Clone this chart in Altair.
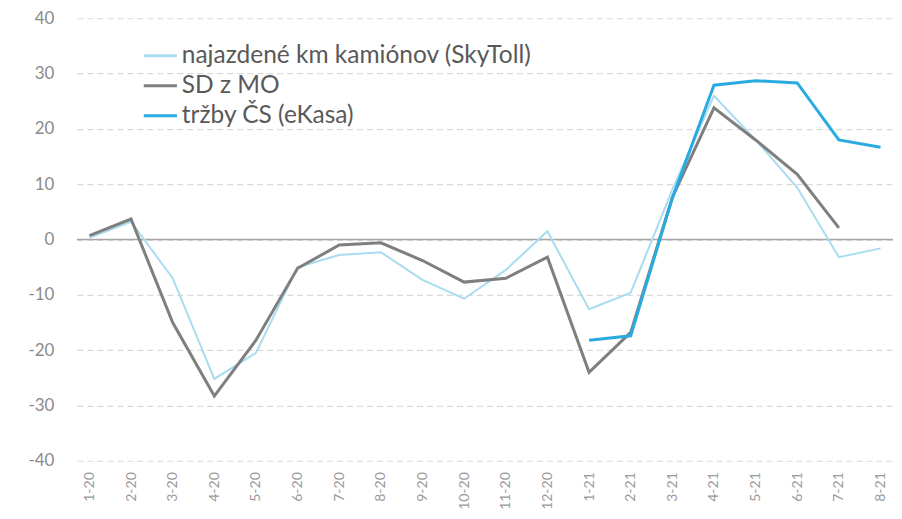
import altair as alt
import pandas as pd

months = ["1-20", "2-20", "3-20", "4-20", "5-20", "6-20", "7-20", "8-20", "9-20", "10-20",
          "11-20", "12-20", "1-21", "2-21", "3-21", "4-21", "5-21", "6-21", "7-21", "8-21"]
skytoll = [0.3, 3.2, -7.0, -25.2, -20.5, -5.0, -2.8, -2.3, -7.3, -10.7,
           -5.5, 1.5, -12.6, -9.6, 9.0, 26.0, 18.0, 9.4, -3.2, -1.6]
sdmo = [0.7, 3.7, -15.0, -28.3, -18.2, -5.2, -1.0, -0.6, -3.8, -7.7,
        -7.0, -3.2, -24.0, -16.8, 7.6, 23.8, 18.0, 11.8, 2.1, None]
ekasa = [None, None, None, None, None, None, None, None, None, None,
         None, None, -18.2, -17.4, 7.5, 27.9, 28.7, 28.3, 18.0, 16.7]

names = ["najazdené km kamiónov (SkyToll)", "SD z MO", "tržby ČS (eKasa)"]
colors = ["#a9dcf1", "#7f7f7f", "#29abe2"]
widths = [2, 3, 3]

rows = []
for name, vals in zip(names, [skytoll, sdmo, ekasa]):
    for m, v in zip(months, vals):
        if v is not None:
            rows.append({"month": m, "value": v, "series": name})
df = pd.DataFrame(rows)

font = "Lato"

x_enc = alt.X("month:N", sort=months, scale=alt.Scale(type="point", padding=0.30),
              axis=alt.Axis(title=None, labelAngle=-90, labelColor="#9a9a9a", labelFontSize=14,
                            labelFont=font, ticks=False, domain=False, grid=False,
                            labelPadding=11, labelAlign="right", labelBaseline="middle"))
y_enc = alt.Y("value:Q", scale=alt.Scale(domain=[-40, 40]),
              axis=alt.Axis(title=None, values=list(range(-40, 41, 10)), labelColor="#8a8a8a",
                            labelFontSize=17, labelFont=font, ticks=False, domain=False,
                            labelExpr="datum.value + ''",
                            grid=True, gridDash=[6, 4], gridColor="#d9d9d9", gridWidth=1.2,
                            labelPadding=23))
color_enc = alt.Color("series:N", scale=alt.Scale(domain=names, range=colors),
                      legend=alt.Legend(title=None, orient="none", legendX=65, legendY=19,
                                        symbolType="stroke", symbolSize=1100, symbolStrokeWidth=3,
                                        labelFontSize=24.5, labelColor="#595959", labelFont=font,
                                        labelLimit=600, rowPadding=-1, labelOffset=3))

base = alt.Chart(df)
zero = alt.Chart(pd.DataFrame({"value": [0]})).mark_rule(color="#a6a6a6", strokeWidth=1.5).encode(y=y_enc)

layers = [zero]
for name, w in zip(names, widths):
    layers.append(
        base.transform_filter(alt.datum.series == name)
        .mark_line(strokeWidth=w)
        .encode(x=x_enc, y=y_enc, color=color_enc)
    )

chart = alt.layer(*layers).properties(
    width=817, height=443,
    background="white",
    padding={"left": 19, "top": 1, "right": 0, "bottom": 0},
).configure_view(strokeWidth=0)

chart.save("out.html", embed_options={"renderer": "svg", "actions": False})
